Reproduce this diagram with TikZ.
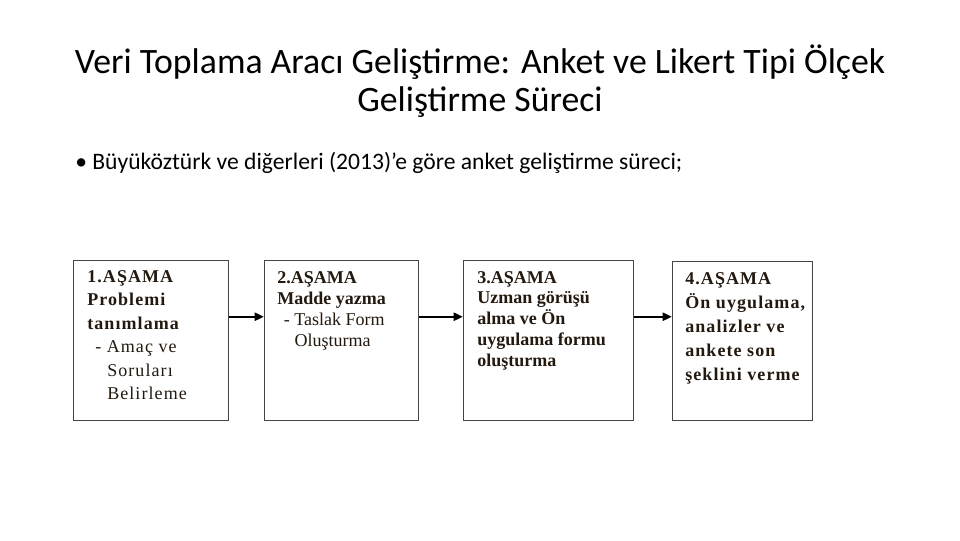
\documentclass[tikz,border=0pt]{standalone}
\usepackage{fontspec}
\setmainfont{Carlito}
\newfontfamily\asamafont{Liberation Serif}
\newfontfamily\asamagenis[LetterSpace=6]{Liberation Serif}
\usetikzlibrary{arrows.meta}

\definecolor{kenar}{RGB}{70,70,70}
\definecolor{yazi}{RGB}{35,25,15}

\tikzset{
  asama/.style={draw=kenar, line width=1.1pt, anchor=north west, minimum height=120pt, inner sep=0pt},
  asamayazi/.style={anchor=north west, inner sep=0pt, align=left, text=yazi},
  akis/.style={-{Triangle[length=7pt,width=6pt]}, line width=1.8pt, black}
}

\begin{document}
\begin{tikzpicture}[x=0.75pt,y=0.75pt,yscale=-1,xscale=1]
\useasboundingbox[fill=white] (0,0) rectangle (960,540);

% baslik
\node (baslik) at (480,81) [align=center, font=\fontsize{26.8}{28.5}\selectfont] {Veri Toplama Aracı Geliştirme: Anket ve Likert Tipi Ölçek\\Geliştirme Süreci};
% madde
\node (madde) at (75,163) [anchor=west, inner sep=0pt, font=\fontsize{17.7}{20}\selectfont] {• Büyüköztürk ve diğerleri (2013)’e göre anket geliştirme süreci;};

% kutular
\node (s1) at (73,260) [asama, minimum width=116.25pt] {};
\node (s2) at (264,260) [asama, minimum width=115.5pt] {};
\node (s3) at (463,260) [asama, minimum width=127.5pt] {};
\node (s4) at (672,261) [asama, minimum width=105pt, minimum height=119.25pt] {};

% kutu yazilari
\node (y1) at (87,270) [asamayazi, font=\asamagenis\bfseries\fontsize{13.5}{17.6}\selectfont] {1.AŞAMA\\Problemi\\tanımlama\\\mdseries\hspace*{6pt}- Amaç ve\\\mdseries\hspace*{15pt}Soruları\\\mdseries\hspace*{15pt}Belirleme};
\node (y2) at (277,271) [asamayazi, font=\asamafont\bfseries\fontsize{13.5}{15.8}\selectfont] {2.AŞAMA\\Madde yazma\\\mdseries\hspace*{5pt}- Taslak Form\\\mdseries\hspace*{13pt}Oluşturma};
\node (y3) at (477,271) [asamayazi, font=\asamafont\bfseries\fontsize{13.5}{15.6}\selectfont] {3.AŞAMA\\Uzman görüşü\\alma ve Ön\\uygulama formu\\oluşturma};
\node (y4) at (685,272) [asamayazi, font=\asamagenis\bfseries\fontsize{13.5}{18}\selectfont] {4.AŞAMA\\Ön uygulama,\\analizler ve\\ankete son\\şeklini verme};

% oklar
\draw[akis] ([yshift=-18pt]s1.east) -- ([yshift=-18pt]s2.west);
\draw[akis] ([yshift=-18pt]s2.east) -- ([yshift=-18pt]s3.west);
\draw[akis] ([yshift=-18pt]s3.east) -- ([yshift=-18pt]s4.west |- s3.east);

\end{tikzpicture}
\end{document}
